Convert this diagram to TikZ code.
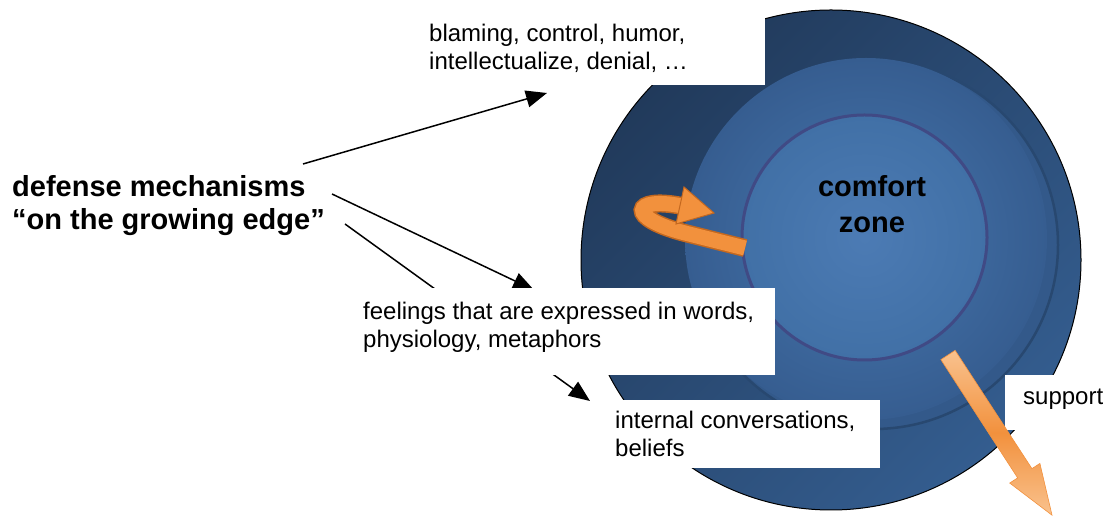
\documentclass[tikz,border=0pt]{standalone}
\usepackage{fontspec}
\setmainfont{Liberation Sans}
\usetikzlibrary{arrows.meta}
\definecolor{outerA}{HTML}{213A5B}
\definecolor{outerB}{HTML}{345D8F}
\definecolor{ringF}{HTML}{33598A}
\definecolor{ringS}{HTML}{284870}
\definecolor{midIn}{HTML}{4676AE}
\definecolor{midOut}{HTML}{365D90}
\definecolor{inIn}{HTML}{4C7BB4}
\definecolor{inOut}{HTML}{4170A6}
\definecolor{inRing}{HTML}{404A85}
\definecolor{orL}{HTML}{F9C28E}
\definecolor{orM}{HTML}{F2913D}
\definecolor{orD}{HTML}{C4681F}
\begin{document}
\begin{tikzpicture}[x=1pt,y=1pt,
  txt/.style={anchor=base west, align=left, inner sep=0pt, font=\fontsize{24}{28.5}\selectfont},
  boldtxt/.style={anchor=base west, align=left, inner sep=0pt, font=\bfseries\fontsize{29}{33}\selectfont},
  whitebox/.style={fill=white, draw=none, anchor=south west, inner sep=0pt},
  blk/.style={line width=1.5pt, -{Triangle[length=21pt,width=17pt]}},
]
\useasboundingbox (0,0) rectangle (1117,516);

% circles
\path[draw=black, line width=1pt, top color=outerA, bottom color=outerB, shading angle=45]
  (831,256) circle[radius=250pt];
\path[fill=ringF, draw=ringS, line width=2.5pt] (874,271) circle[radius=184pt];
\path[inner color=midIn, outer color=midOut] (866,277) circle[radius=181pt];
\path[draw=inRing, line width=3pt, inner color=inIn, outer color=inOut] (864.5,278.5) circle[radius=122.5pt];

% left label (base = last line)
\node[boldtxt] (def) at (12,286) {defense mechanisms\\``on the growing edge''};

% black arrows
\coordinate (a1s) at (303,352); \coordinate (a1e) at (547,423);
\coordinate (a2s) at (332,322); \coordinate (a2e) at (534,226);
\coordinate (a3s) at (345,292); \coordinate (a3e) at (590,115);
\draw[blk] (a1s) -- (a1e);
\draw[blk] (a2s) -- (a2e);
\draw[blk] (a3s) -- (a3e);

% white boxes
\node[whitebox, minimum width=350pt, minimum height=86pt] (topbox) at (415,431) {};
\node[whitebox, minimum width=420pt, minimum height=87pt] (feelbox) at (355,141) {};
\node[whitebox, minimum width=280pt, minimum height=68pt] (intbox) at (600,48) {};
\node[whitebox, minimum width=112pt, minimum height=55pt] (supbox) at (1005,86) {};

% texts (base = last line)
\node[txt] (toptext) at (429,446) {blaming, control, humor,\\intellectualize, denial, \dots};
\node[txt] (feeltext) at (363,168) {feelings that are expressed in words,\\physiology, metaphors};
\node[txt] (inttext) at (615,59) {internal conversations,\\beliefs};
\node[txt] (suptext) at (1023,111) {support};
\node[anchor=base, align=center, inner sep=0pt, font=\bfseries\fontsize{29}{36}\selectfont] (comfort) at (872,283) {comfort\\zone};

% curved orange arrow
\draw[line width=18pt, draw=orD] (745,268) -- (685,283) .. controls (626,298) and (632,320) .. (682,310);
\draw[line width=15pt, draw=orM] (745,268) -- (685,283) .. controls (626,298) and (632,320) .. (682,310);
\path[fill=orM, draw=orD, line width=1pt] (684,329) -- (714,303) -- (676,292) -- cycle;

% straight orange arrow
\begin{scope}[shift={(948,161)}, rotate=-57]
\path[draw=orM, line width=0.6pt, top color=orL, bottom color=orL, middle color=orM]
  (0,8.5) -- (141,8.5) -- (141,18) -- (191,0) -- (141,-18) -- (141,-8.5) -- (0,-8.5) -- cycle;
\end{scope}
\end{tikzpicture}
\end{document}
